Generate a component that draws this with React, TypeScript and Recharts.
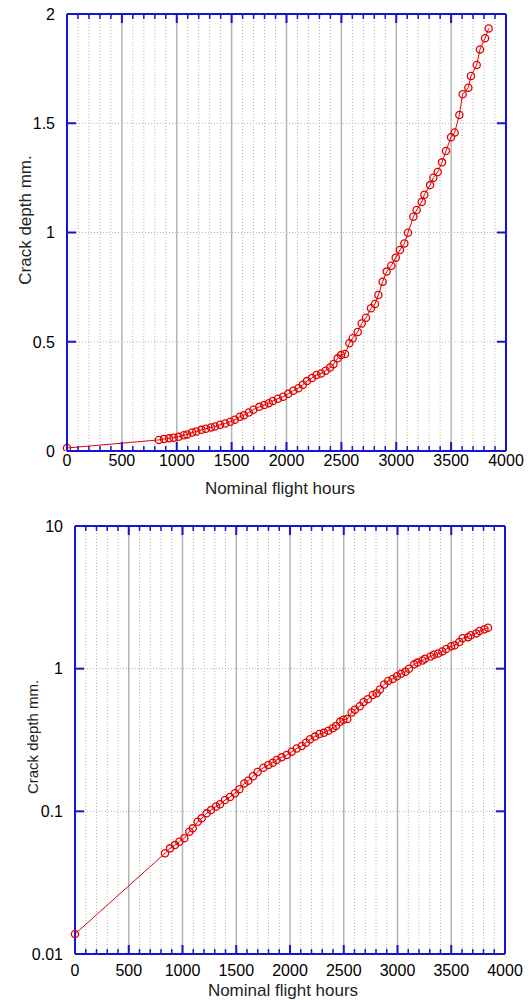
import React from 'react';
import { LineChart, Line, XAxis, YAxis, ReferenceLine } from 'recharts';

// Nominal flight hours
const hours = [
  0, 837, 884, 930, 971, 1017, 1064, 1095, 1141, 1178, 1225, 1265, 1312, 1349, 1395,
  1442, 1488, 1529, 1575, 1612, 1656, 1698, 1752, 1798, 1839, 1876, 1922, 1969, 2016,
  2062, 2109, 2149, 2186, 2232, 2273, 2316, 2356, 2397, 2428, 2466, 2497, 2533, 2573,
  2603, 2649, 2685, 2724, 2770, 2806, 2837, 2876, 2913, 2955, 2995, 3034, 3074, 3107,
  3156, 3186, 3232, 3256, 3308, 3338, 3378, 3417, 3453, 3499, 3532, 3575, 3605, 3657,
  3681, 3733, 3763, 3809, 3842,
];
// Crack depth, mm
const depth = [
  0.0138, 0.0508, 0.055, 0.058, 0.0612, 0.0647, 0.072, 0.076, 0.0845, 0.0893, 0.0968, 0.102, 0.108, 0.112, 0.12,
  0.126, 0.134, 0.143, 0.157, 0.164, 0.176, 0.189, 0.202, 0.211, 0.219, 0.229, 0.239, 0.248, 0.262,
  0.276, 0.287, 0.303, 0.32, 0.334, 0.348, 0.355, 0.367, 0.382, 0.397, 0.424, 0.439, 0.444, 0.493,
  0.516, 0.545, 0.584, 0.61, 0.653, 0.673, 0.714, 0.775, 0.821, 0.848, 0.885, 0.92, 0.95, 0.999,
  1.072, 1.103, 1.14, 1.173, 1.217, 1.251, 1.277, 1.321, 1.373, 1.436, 1.458, 1.538, 1.633, 1.663,
  1.716, 1.767, 1.838, 1.889, 1.934,
];

const xTicks = [
  0, 100, 200, 300, 400, 500, 600, 700, 800, 900, 1000, 1100, 1200, 1300, 1400, 1500,
  1600, 1700, 1800, 1900, 2000, 2100, 2200, 2300, 2400, 2500, 2600, 2700, 2800, 2900,
  3000, 3100, 3200, 3300, 3400, 3500, 3600, 3700, 3800, 3900, 4000,
];
const linTicks = [0, 0.5, 1, 1.5, 2];
const logTicks = [0.01, 0.1, 1, 10];

const xTitle = 'Nominal flight hours';
const yTitle = 'Crack depth mm.';

const data = hours.map((h, i) => ({ h, d: depth[i] }));
const isMajorX = (v: number) => v % 500 === 0;
const minorGridX = xTicks.filter((v) => !isMajorX(v));
const majorGridX = xTicks.filter((v) => isMajorX(v) && v > 0 && v < 4000);
const linGridY = linTicks.slice(1, -1);
const logGridY = logTicks.slice(1, -1);

const BLUE = '#1414d2';
const RED = '#e60000';
const GRID = '#b4b4b4';
const FONT = '"Liberation Sans", Arial, Helvetica, sans-serif';

const makeBottomTick = (labelDy: number) => (props: any) => {
  const { x, y, payload } = props;
  const v = payload.value;
  const major = isMajorX(v);
  return (
    <g>
      <line x1={x} x2={x} y1={y} y2={y - (major ? 9 : 5)} stroke={BLUE} strokeWidth={major ? 2 : 1.5} />
      {major && (
        <text x={x} y={y + labelDy} textAnchor="middle" fontSize={16} fontFamily={FONT} fill="#000">
          {v}
        </text>
      )}
    </g>
  );
};

const topTick = (props: any) => {
  const { x, y, payload } = props;
  const major = isMajorX(payload.value);
  return <line x1={x} x2={x} y1={y} y2={y + (major ? 9 : 5)} stroke={BLUE} strokeWidth={major ? 2 : 1.5} />;
};

const leftTick = (props: any) => {
  const { x, y, payload } = props;
  return (
    <g>
      <line x1={x} x2={x + 9} y1={y} y2={y} stroke={BLUE} strokeWidth={2} />
      <text x={x - 12} y={y} dy="0.36em" textAnchor="end" fontSize={16} fontFamily={FONT} fill="#000">
        {String(payload.value)}
      </text>
    </g>
  );
};

const rightTick = (props: any) => {
  const { x, y } = props;
  return <line x1={x} x2={x - 9} y1={y} y2={y} stroke={BLUE} strokeWidth={2} />;
};

const axisLine = { stroke: BLUE, strokeWidth: 2 };

type PanelProps = {
  log: boolean;
  top: number;
  plot: { left: number; right: number; top: number; bottom: number };
  height: number;
  xLabelDy: number;
  xTitleX: number;
  xTitleY: number;
  yTitleX: number;
  yTitleY: number;
  yTitleSize: number;
};

function Panel(p: PanelProps) {
  const width = 529;
  const yTicks = p.log ? logTicks : linTicks;
  const yDomain = p.log ? [0.01, 10] : [0, 2];
  const gridY = p.log ? logGridY : linGridY;
  const xTitleEl = () => (
    <text x={p.xTitleX} y={p.xTitleY} textAnchor="middle" fontSize={17} fontFamily={FONT} fill="#222">
      {xTitle}
    </text>
  );
  const yTitleEl = () => (
    <text
      x={p.yTitleX}
      y={p.yTitleY}
      dy="0.35em"
      textAnchor="middle"
      fontSize={p.yTitleSize}
      fontFamily={FONT}
      fill="#222"
      transform={`rotate(-90 ${p.yTitleX} ${p.yTitleY})`}
    >
      {yTitle}
    </text>
  );
  return (
    <div style={{ position: 'absolute', left: 0, top: p.top, width, height: p.height }}>
      <LineChart
        width={width}
        height={p.height}
        data={data}
        margin={{ top: p.plot.top - 1, right: width - p.plot.right - 1, bottom: 0, left: 0 }}
      >
        <XAxis
          xAxisId="b"
          dataKey="h"
          type="number"
          domain={[0, 4000]}
          ticks={xTicks}
          interval={0}
          tickSize={0}
          tickMargin={0}
          tickLine={false}
          axisLine={axisLine}
          tick={makeBottomTick(p.xLabelDy)}
          height={p.height - p.plot.bottom}
          label={xTitleEl}
        />
        <XAxis
          xAxisId="t"
          orientation="top"
          dataKey="h"
          type="number"
          domain={[0, 4000]}
          ticks={xTicks}
          interval={0}
          tickSize={0}
          tickMargin={0}
          tickLine={false}
          axisLine={axisLine}
          tick={topTick}
          height={1}
        />
        <YAxis
          yAxisId="l"
          type="number"
          scale={p.log ? 'log' : 'linear'}
          domain={yDomain}
          allowDataOverflow
          ticks={yTicks}
          interval={0}
          tickSize={0}
          tickMargin={0}
          tickLine={false}
          axisLine={axisLine}
          tick={leftTick}
          width={p.plot.left}
          label={yTitleEl}
        />
        <YAxis
          yAxisId="r"
          orientation="right"
          type="number"
          scale={p.log ? 'log' : 'linear'}
          domain={yDomain}
          allowDataOverflow
          ticks={yTicks}
          interval={0}
          tickSize={0}
          tickMargin={0}
          tickLine={false}
          axisLine={axisLine}
          tick={rightTick}
          width={1}
        />
        {minorGridX.map((v) => (
          <ReferenceLine key={`mx${v}`} xAxisId="b" yAxisId="l" x={v} stroke={GRID} strokeWidth={1} strokeDasharray="1 2" />
        ))}
        {majorGridX.map((v) => (
          <ReferenceLine key={`Mx${v}`} xAxisId="b" yAxisId="l" x={v} stroke={GRID} strokeWidth={1.5} />
        ))}
        {gridY.map((v) => (
          <ReferenceLine key={`gy${v}`} xAxisId="b" yAxisId="l" y={v} stroke={GRID} strokeWidth={1} strokeDasharray="1 2" />
        ))}
        <Line
          xAxisId="b"
          yAxisId="l"
          dataKey="d"
          type="linear"
          stroke={RED}
          strokeWidth={1}
          dot={{ r: 3.6, stroke: RED, strokeWidth: 1.3, fill: 'none' }}
          isAnimationActive={false}
        />
      </LineChart>
    </div>
  );
}

export default function App() {
  return (
    <div style={{ position: 'absolute', left: 0, top: 0, width: 529, height: 1000, background: '#fff' }}>
      <Panel
        log={false}
        top={0}
        height={500}
        plot={{ left: 67, right: 506, top: 14, bottom: 451 }}
        xLabelDy={15}
        xTitleX={280}
        xTitleY={494}
        yTitleX={25}
        yTitleY={220}
        yTitleSize={17}
      />
      <Panel
        log={true}
        top={500}
        height={500}
        plot={{ left: 75, right: 505, top: 26, bottom: 454 }}
        xLabelDy={22}
        xTitleX={283}
        xTitleY={496}
        yTitleX={33}
        yTitleY={237}
        yTitleSize={15}
      />
    </div>
  );
}
